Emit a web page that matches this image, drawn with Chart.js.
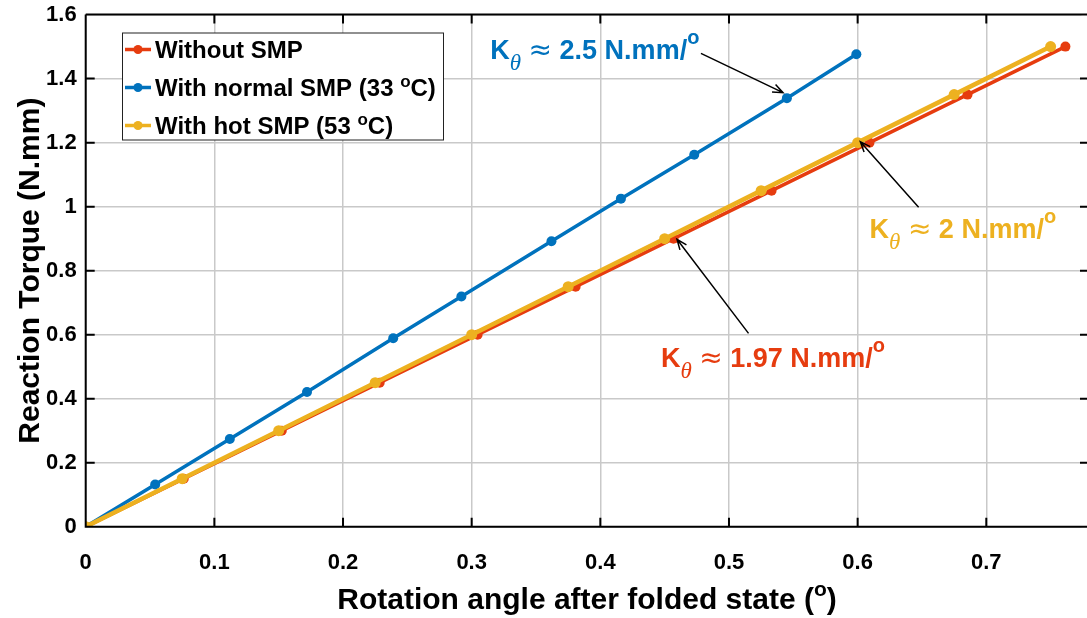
<!DOCTYPE html>
<html>
<head>
<meta charset="utf-8">
<script src="https://cdn.jsdelivr.net/npm/chart.js@4"></script>
<style>
  html, body { margin: 0; padding: 0; background: #fff; overflow: hidden; }
  #wrap { width: 1087px; height: 618px; position: relative; }
  #torqueChart { display: block; }
</style>
</head>
<body>
<div id="wrap"><canvas id="torqueChart"></canvas></div>
<script>
// Values
const redX = [0, 0.0762, 0.1524, 0.2285, 0.3046, 0.3808, 0.4569, 0.5331, 0.6092, 0.6854, 0.7615];
const redY = [0, 0.15, 0.30, 0.45, 0.60, 0.75, 0.90, 1.05, 1.20, 1.35, 1.50];
const blueX = [0, 0.054, 0.112, 0.172, 0.239, 0.292, 0.362, 0.416, 0.473, 0.545, 0.599];
const blueY = [0, 0.132, 0.274, 0.421, 0.589, 0.719, 0.892, 1.025, 1.162, 1.339, 1.476];
const hotX = [0, 0.075, 0.150, 0.225, 0.300, 0.375, 0.450, 0.525, 0.600, 0.675, 0.750];
const hotY = [0, 0.15, 0.30, 0.45, 0.60, 0.75, 0.90, 1.05, 1.20, 1.35, 1.50];

const xTicks = [0, 0.1, 0.2, 0.3, 0.4, 0.5, 0.6, 0.7];
const xTickLabels = ["0", "0.1", "0.2", "0.3", "0.4", "0.5", "0.6", "0.7"];
const yTicks = [0, 0.2, 0.4, 0.6, 0.8, 1, 1.2, 1.4, 1.6];
const yTickLabels = ["0", "0.2", "0.4", "0.6", "0.8", "1", "1.2", "1.4", "1.6"];

const seriesNames = ["Without SMP", "With normal SMP (33 |o|C)", "With hot SMP (53 |o|C)"];
const xTitle = "Rotation angle after folded state (|o|)";
const yTitle = "Reaction Torque (N.mm)";

// stiffness callouts: label value, text anchor, arrow tail, arrow head (data units)
const calloutValues = ["2.5", "2", "1.97"];
const calloutText = [[0.3145, 1.461], [0.6093, 0.902], [0.4471, 0.500]];
const calloutTail = [[0.4782, 1.479], [0.6474, 0.998], [0.5152, 0.604]];
const calloutHead = [[0.5420, 1.356], [0.6021, 1.203], [0.4596, 0.898]];

const RED = "#E63C0F";
const BLUE = "#0072BD";
const YEL = "#EDB120";
const seriesColors = [RED, BLUE, YEL];
const calloutColors = [BLUE, YEL, RED];

const SANS = "'Liberation Sans', Arial, sans-serif";
const SERIF = "'Liberation Serif', 'DejaVu Serif', serif";

function toPoints(xs, ys) {
  return xs.map((x, i) => ({ x: x, y: ys[i] }));
}

// draw a run of text pieces left to right
function drawRich(ctx, x, y, parts) {
  parts.forEach(p => {
    ctx.font = p.font;
    ctx.fillText(p.t, x, y + (p.dy || 0));
    x += ctx.measureText(p.t).width;
  });
  return x;
}

// "|o|" marks a superscript o
function withSup(str, font, supFont, supDy) {
  const parts = [];
  str.split("|").forEach((s, i) => {
    if (!s) return;
    if (i % 2 === 1) parts.push({ t: s, font: supFont, dy: supDy });
    else parts.push({ t: s, font: font });
  });
  return parts;
}

function measureParts(ctx, parts) {
  let w = 0;
  parts.forEach(p => { ctx.font = p.font; w += ctx.measureText(p.t).width; });
  return w;
}

function noScalePadding(s) {
  s.paddingTop = 0;
  s.paddingBottom = 0;
  s.paddingLeft = 0;
  s.paddingRight = 0;
}

const decorPlugin = {
  id: "decor",
  afterDatasetsDraw(chart) {
    const ctx = chart.ctx;
    const a = chart.chartArea;
    const xs = chart.scales.x;
    const ys = chart.scales.y;
    const right = chart.width;
    ctx.save();

    // box and inward ticks (right edge of the axes box is cropped in the figure)
    ctx.strokeStyle = "#000";
    ctx.lineWidth = 2;
    ctx.beginPath();
    ctx.moveTo(a.left, a.top);
    ctx.lineTo(a.left, a.bottom);
    ctx.lineTo(right, a.bottom);
    ctx.moveTo(a.left, a.top);
    ctx.lineTo(right, a.top);
    const tl = 9;
    xTicks.forEach(v => {
      const px = xs.getPixelForValue(v);
      ctx.moveTo(px, a.bottom); ctx.lineTo(px, a.bottom - tl);
      ctx.moveTo(px, a.top); ctx.lineTo(px, a.top + tl);
    });
    yTicks.forEach(v => {
      const py = ys.getPixelForValue(v);
      ctx.moveTo(a.left, py); ctx.lineTo(a.left + tl, py);
      ctx.moveTo(right, py); ctx.lineTo(right - tl + 2, py);
    });
    ctx.stroke();

    // callouts
    calloutValues.forEach((val, i) => {
      const hx = xs.getPixelForValue(calloutHead[i][0]);
      const hy = ys.getPixelForValue(calloutHead[i][1]);
      const tx = xs.getPixelForValue(calloutTail[i][0]);
      const ty = ys.getPixelForValue(calloutTail[i][1]);
      ctx.strokeStyle = "#000";
      ctx.lineWidth = 1.5;
      ctx.beginPath();
      ctx.moveTo(tx, ty);
      ctx.lineTo(hx, hy);
      const ang = Math.atan2(hy - ty, hx - tx);
      const len = 11, wid = 0.38;
      ctx.moveTo(hx - len * Math.cos(ang - wid), hy - len * Math.sin(ang - wid));
      ctx.lineTo(hx, hy);
      ctx.lineTo(hx - len * Math.cos(ang + wid), hy - len * Math.sin(ang + wid));
      ctx.stroke();

      const px = xs.getPixelForValue(calloutText[i][0]);
      const py = ys.getPixelForValue(calloutText[i][1]);
      ctx.fillStyle = calloutColors[i];
      ctx.textBaseline = "alphabetic";
      ctx.textAlign = "left";
      drawRich(ctx, px, py, [
        { t: "K", font: "bold 27px " + SANS },
        { t: "\u03B8", font: "italic 23px " + SERIF, dy: 11 },
        { t: " ", font: "bold 27px " + SANS },
        { t: "\u2248", font: "28px 'DejaVu Sans', sans-serif" },
        { t: " " + val + " N.mm/", font: "bold 27px " + SANS },
        { t: "o", font: "bold 20px " + SANS, dy: -15 }
      ]);
    });

    // legend
    const lx = 122.5, ly = 33, lw = 321, lh = 107;
    ctx.fillStyle = "#fff";
    ctx.fillRect(lx, ly, lw, lh);
    ctx.strokeStyle = "#222";
    ctx.lineWidth = 1;
    ctx.strokeRect(lx, ly, lw, lh);
    const rows = [49.5, 87.5, 125.5];
    seriesNames.forEach((name, i) => {
      const ry = rows[i];
      ctx.strokeStyle = seriesColors[i];
      ctx.lineWidth = 3.5;
      ctx.beginPath();
      ctx.moveTo(125, ry); ctx.lineTo(151, ry);
      ctx.stroke();
      ctx.fillStyle = seriesColors[i];
      ctx.beginPath();
      ctx.arc(138, ry, 4.5, 0, Math.PI * 2);
      ctx.fill();
      ctx.fillStyle = "#000";
      ctx.textBaseline = "alphabetic";
      drawRich(ctx, 155, ry + 8.5, withSup(name, "bold 24px " + SANS, "bold 17px " + SANS, -9));
    });

    // axis titles
    ctx.fillStyle = "#000";
    const xt = withSup(xTitle, "bold 30px " + SANS, "bold 21px " + SANS, -13);
    const xw = measureParts(ctx, xt);
    drawRich(ctx, 587 - xw / 2, 609, xt);

    ctx.translate(39, (a.top + a.bottom) / 2);
    ctx.rotate(-Math.PI / 2);
    ctx.font = "bold 30px " + SANS;
    ctx.textAlign = "center";
    ctx.fillText(yTitle, 0, 0);
    ctx.restore();
  }
};

const tickFont = { family: SANS, size: 22, weight: "bold" };
const gridOpts = { color: "#c9c9c9", lineWidth: 1.5, drawTicks: false };

new Chart(document.getElementById("torqueChart"), {
  type: "line",
  data: {
    datasets: [
      { label: "Without SMP", data: toPoints(redX, redY), borderColor: RED, backgroundColor: RED,
        borderWidth: 3.5, pointRadius: 5, pointBorderWidth: 0, order: 3 },
      { label: "With normal SMP", data: toPoints(blueX, blueY), borderColor: BLUE, backgroundColor: BLUE,
        borderWidth: 3.5, pointRadius: 5, pointBorderWidth: 0, order: 2 },
      { label: "With hot SMP", data: toPoints(hotX, hotY), borderColor: YEL, backgroundColor: YEL,
        borderWidth: 4.5, pointRadius: 5.5, pointBorderWidth: 0, order: 1 }
    ]
  },
  options: {
    responsive: true,
    maintainAspectRatio: false,
    animation: false,
    layout: { padding: { top: 14.6, right: 0, left: 0, bottom: 0 } },
    plugins: { legend: { display: false }, tooltip: { enabled: false } },
    elements: { line: { tension: 0 } },
    scales: {
      x: {
        type: "linear",
        min: 0,
        max: 0.774,
        afterBuildTicks: s => { s.ticks = xTicks.map(v => ({ value: v })); },
        afterFit: s => { s.height = 91.3; noScalePadding(s); },
        border: { display: false },
        grid: gridOpts,
        ticks: {
          font: tickFont, color: "#000", padding: 23, maxRotation: 0,
          callback: (v, i) => xTickLabels[i]
        }
      },
      y: {
        type: "linear",
        min: 0,
        max: 1.6,
        afterBuildTicks: s => { s.ticks = yTicks.map(v => ({ value: v })); },
        afterFit: s => { s.width = 85.7; noScalePadding(s); },
        border: { display: false },
        grid: gridOpts,
        ticks: {
          font: tickFont, color: "#000", padding: 9,
          callback: (v, i) => yTickLabels[i]
        }
      }
    }
  },
  plugins: [decorPlugin]
});
</script>
</body>
</html>
